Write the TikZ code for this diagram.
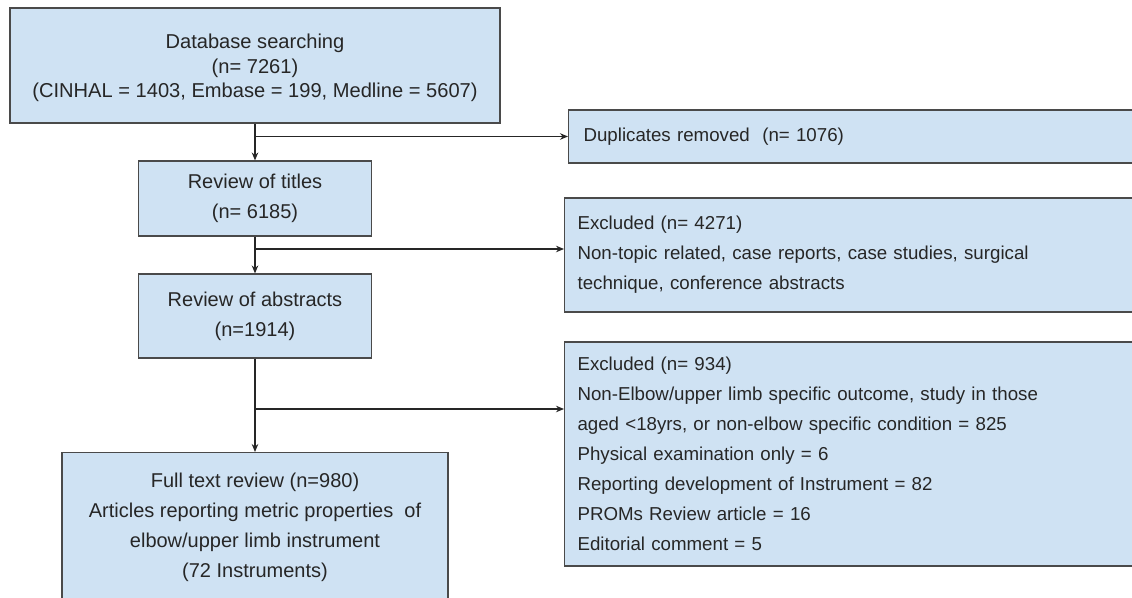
\documentclass[tikz,border=0pt]{standalone}
\usepackage{fontspec}
\setmainfont{Liberation Sans}
\usetikzlibrary{arrows.meta}
\definecolor{boxfill}{HTML}{CFE2F3}
\definecolor{boxline}{HTML}{4A4A4A}
\definecolor{ink}{HTML}{262626}
\tikzset{
  x=1pt, y=-1pt,
  box/.style={draw=boxline, line width=1.1pt, fill=boxfill, text=ink, inner sep=0pt,
    font=\fontsize{20}{30}\selectfont, align=center},
  sidebox/.style={box, align=left, anchor=west, inner xsep=13pt, font=\fontsize{18.7}{30}\selectfont},
  conn/.style={draw=ink, line width=1.2pt},
  arr/.style={conn, -{Stealth[length=8pt,width=6.5pt]}}
}
\begin{document}
\begin{tikzpicture}
\useasboundingbox (0,0) rectangle (1132,597);
\clip (0,0) rectangle (1132,597);
\fill[white] (0,0) rectangle (1132,597);
\node[box, minimum width=490pt, minimum height=115pt, font=\fontsize{20.1}{24.5}\selectfont] (db) at (255,65.5)
  {\raisebox{-3pt}[\height][\depth]{\begin{tabular}{@{}c@{}}Database searching\\(n= 7261)\\(CINHAL = 1403, Embase = 199, Medline = 5607)\end{tabular}}};
\node[box, minimum width=233pt, minimum height=75pt] (titles) at (255,198.5)
  {Review of titles\\(n= 6185)};
\node[box, minimum width=233pt, minimum height=84pt] (abstracts) at (255,316)
  {Review of abstracts\\(n=1914)};
\node[box, minimum width=386pt, minimum height=150pt, anchor=north] (full) at (255,452)
  {Full text review (n=980)\\Articles reporting metric properties\ \ of\\elbow/upper limb instrument\\(72 Instruments)};
\node[sidebox, minimum width=580pt, minimum height=53pt, text width=554pt, inner xsep=15pt] (dup) at (568,136.5)
  {Duplicates removed\ \ (n= 1076)};
\node[sidebox, minimum width=584pt, minimum height=114pt, text width=558pt] (ex1) at (564,255)
  {Excluded (n= 4271)\\Non-topic related, case reports, case studies, surgical\\technique, conference abstracts};
\node[sidebox, minimum width=584pt, minimum height=224pt, text width=558pt] (ex2) at (564,454)
  {Excluded (n= 934)\\Non-Elbow/upper limb specific outcome, study in those\\aged <18yrs, or non-elbow specific condition = 825\\Physical examination only = 6\\Reporting development of Instrument = 82\\PROMs Review article = 16\\Editorial comment = 5};
\coordinate (b1) at (255,136.5);
\coordinate (b2) at (255,249);
\coordinate (b3) at (255,409);
\draw[arr] (db.south) -- (titles.north);
\draw[arr] (titles.south) -- (abstracts.north);
\draw[arr] (abstracts.south) -- (full.north);
\draw[arr] (b1) -- (dup.west);
\draw[arr] (b2) -- (b2 -| ex1.west);
\draw[arr] (b3) -- (b3 -| ex2.west);
\end{tikzpicture}
\end{document}
